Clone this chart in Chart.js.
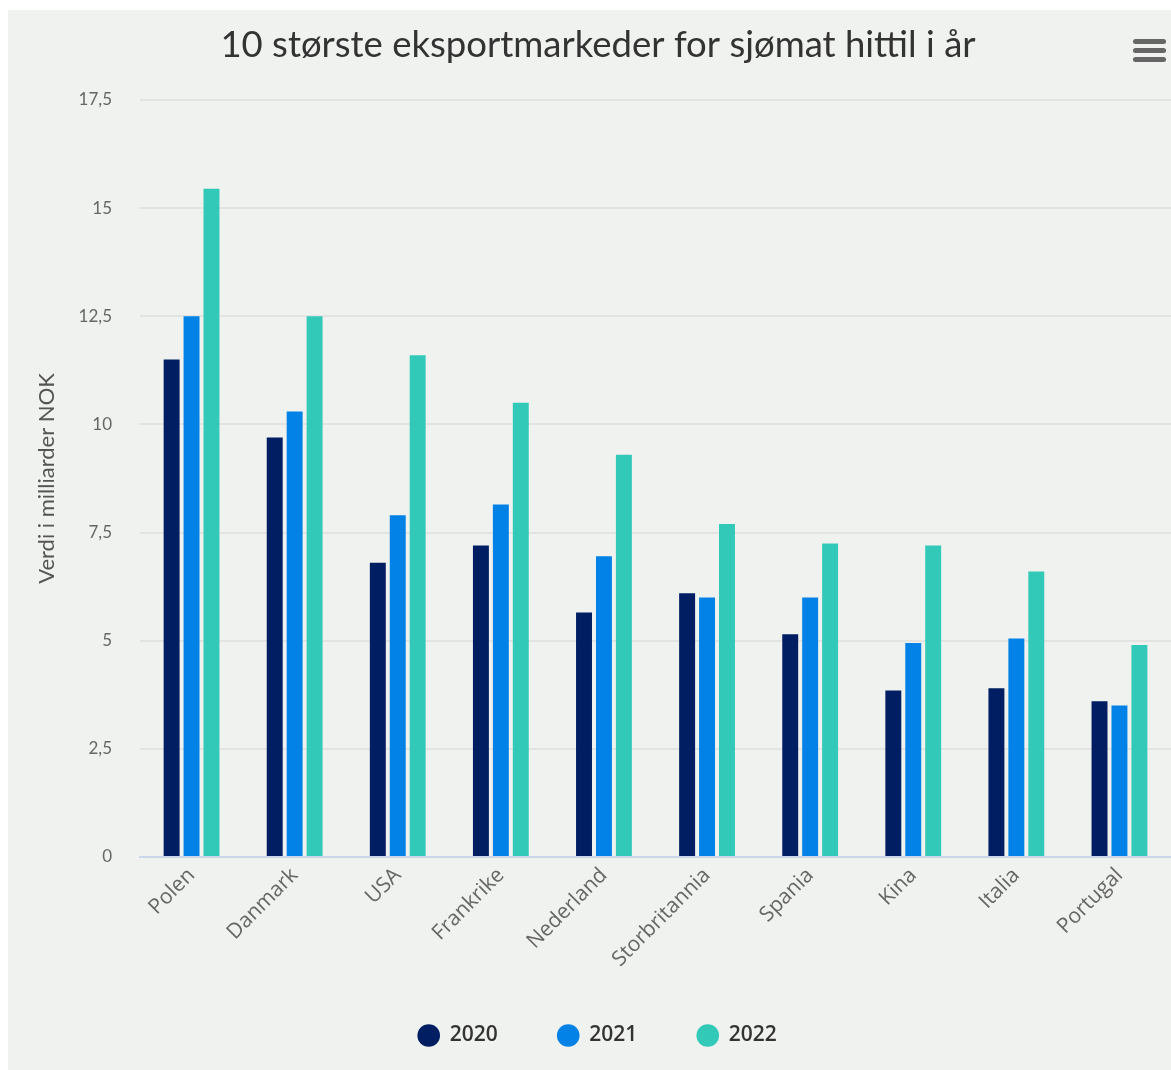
<!DOCTYPE html>
<html>
<head>
<meta charset="utf-8">
<script src="https://cdn.jsdelivr.net/npm/chart.js@4"></script>
<style>
  html, body { margin: 0; padding: 0; background: #ffffff; }
  #wrap { width: 1171px; height: 1070px; position: relative; }
</style>
</head>
<body>
<div id="wrap"><canvas id="myChart" width="1171" height="1070"></canvas></div>
<script>
// categories and values (milliarder NOK)
var markets = ['Polen', 'Danmark', 'USA', 'Frankrike', 'Nederland', 'Storbritannia', 'Spania', 'Kina', 'Italia', 'Portugal'];
var years = ['2020', '2021', '2022'];
var values2020 = [11.5, 9.7, 6.8, 7.2, 5.65, 6.1, 5.15, 3.85, 3.9, 3.6];
var values2021 = [12.5, 10.3, 7.9, 8.15, 6.95, 6.0, 6.0, 4.95, 5.05, 3.5];
var values2022 = [15.45, 12.5, 11.6, 10.5, 9.3, 7.7, 7.25, 7.2, 6.6, 4.9];
var yTicks = [0, 2.5, 5, 7.5, 10, 12.5, 15, 17.5];

var colors = ['#011e63', '#0282e6', '#32c9b9'];
var chartTitle = '10 største eksportmarkeder for sjømat hittil i år';
var yTitle = 'Verdi i milliarder NOK';

var bgPlugin = {
  id: 'bg',
  afterLayout: function (chart) {
    // nudge the legend: a little right of centre and up
    chart.legend.left += 12;
    chart.legend.right += 12;
    chart.legend.top -= 14;
    chart.legend.bottom -= 14;
  },
  beforeDraw: function (chart) {
    var ctx = chart.ctx;
    ctx.save();
    ctx.fillStyle = '#f0f2ef';
    ctx.fillRect(8, 10, chart.width - 8, chart.height - 10);
    ctx.restore();
  },
  afterDraw: function (chart) {
    var ctx = chart.ctx;
    ctx.save();
    // title
    ctx.fillStyle = '#333333';
    ctx.font = '36.5px Lato, sans-serif';
    ctx.textAlign = 'center';
    ctx.textBaseline = 'middle';
    ctx.fillText(chartTitle, 598, 45);
    // menu icon
    ctx.fillStyle = '#666666';
    for (var i = 0; i < 3; i++) {
      ctx.beginPath();
      ctx.roundRect(1133, 39 + i * 9, 33, 5, 2.5);
      ctx.fill();
    }
    ctx.restore();
  }
};

const chart_data = {
  labels: markets,
  datasets: [
    { label: years[0], data: values2020, backgroundColor: colors[0] },
    { label: years[1], data: values2021, backgroundColor: colors[1] },
    { label: years[2], data: values2022, backgroundColor: colors[2] }
  ]
};

const config = {
  type: 'bar',
  data: chart_data,
  plugins: [bgPlugin],
  options: {
    responsive: false,
    animation: false,
    devicePixelRatio: 1,
    layout: { padding: { top: 100, left: 0, right: 0, bottom: 0 } },
    datasets: {
      bar: { categoryPercentage: 0.58, barPercentage: 0.8 }
    },
    plugins: {
      tooltip: { enabled: false },
      legend: {
        position: 'bottom',
        maxHeight: 107,
        labels: {
          usePointStyle: true,
          pointStyle: 'circle',
          boxWidth: 21,
          boxHeight: 16,
          padding: 60,
          color: '#333333',
          font: { family: '"Open Sans", sans-serif', size: 21, weight: '600' }
        }
      }
    },
    scales: {
      x: {
        grid: { display: false, drawTicks: false },
        border: { display: true, color: '#ccd6eb', width: 2 },
        ticks: {
          color: '#666666',
          minRotation: 45,
          maxRotation: 45,
          padding: 6,
          font: { family: '"Open Sans", sans-serif', size: 21 }
        },
        afterFit: function (scale) { scale.height = 122; }
      },
      y: {
        min: 0,
        max: 17.5,
        afterBuildTicks: function (scale) {
          scale.ticks = yTicks.map(function (v) { return { value: v }; });
        },
        grid: { color: '#e3e4e1', lineWidth: 2, drawTicks: false },
        border: { display: false },
        ticks: {
          color: '#666666',
          padding: 28,
          font: { family: 'Lato, sans-serif', size: 17 },
          callback: function (v) { return String(v).replace('.', ','); }
        },
        title: {
          display: true,
          text: yTitle,
          color: '#555555',
          padding: { top: 34, bottom: 0 },
          font: { family: 'Lato, sans-serif', size: 22 }
        },
        afterFit: function (scale) { scale.width = 140; }
      }
    }
  }
};

const myChart = new Chart(document.getElementById('myChart'), config);
</script>
</body>
</html>
